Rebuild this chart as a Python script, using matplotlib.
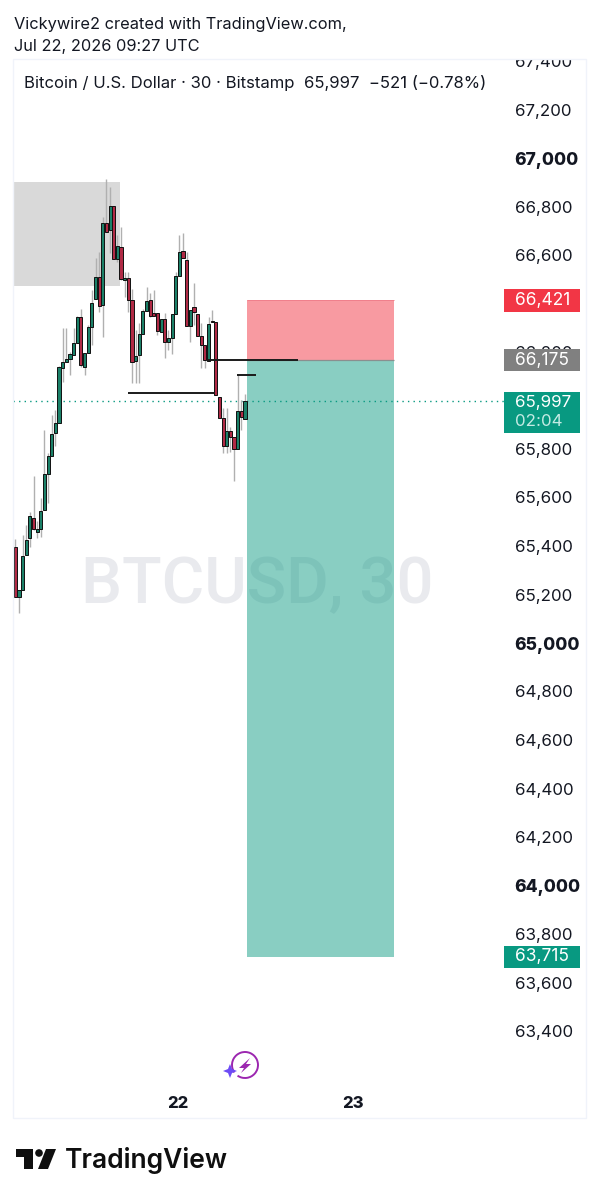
import numpy as np
import matplotlib
matplotlib.use('Agg')
import matplotlib.pyplot as plt
from matplotlib.patches import Rectangle, Polygon, Arc, Circle

# 30 minute candles
opens = [65397, 65191, 65218, 65363, 65435, 65517, 65459, 65469, 65549, 65697, 65772, 65866, 65908, 66134, 66160, 66171,
         66188, 66238, 66346, 66139, 66196, 66304, 66417, 66509, 66394, 66732, 66703, 66802, 66582, 66634, 66497, 66504,
         66414, 66164, 66188, 66273, 66369, 66414, 66361, 66362, 66284, 66335, 66240, 66259, 66355, 66515, 66618, 66579,
         66307, 66386, 66357, 66267, 66229, 66163, 66328, 66322, 66014, 65927, 65812, 65875, 65848, 65800, 65957, 65922]
highs = [65428, 65218, 65445, 65486, 65542, 65689, 65503, 65598, 65878, 65785, 65940, 65961, 66142, 66299, 66299, 66200,
         66299, 66348, 66377, 66196, 66311, 66456, 66588, 66614, 66758, 66913, 66882, 66802, 66682, 66717, 66531, 66531,
         66460, 66291, 66320, 66378, 66469, 66445, 66456, 66362, 66335, 66361, 66291, 66357, 66531, 66682, 66692, 66612,
         66373, 66484, 66357, 66320, 66229, 66346, 66373, 66322, 66014, 65969, 65969, 65891, 65848, 66105, 66002, 66027]
lows = [65189, 65125, 65218, 65363, 65397, 65466, 65433, 65437, 65549, 65578, 65772, 65812, 65907, 66078, 66160, 66105,
        66188, 66238, 66139, 66105, 66196, 66229, 66417, 66366, 66263, 66696, 66608, 66583, 66571, 66497, 66428, 66366,
        66072, 66072, 66072, 66273, 66369, 66345, 66350, 66270, 66284, 66175, 66208, 66192, 66355, 66515, 66589, 66307,
        66242, 66311, 66267, 66134, 66134, 66163, 66322, 66023, 65927, 65783, 65783, 65789, 65668, 65800, 65878, 65922]
closes = [65191, 65218, 65359, 65424, 65525, 65470, 65469, 65546, 65697, 65772, 65862, 65906, 66139, 66160, 66171, 66190,
          66237, 66346, 66146, 66196, 66303, 66403, 66509, 66390, 66732, 66696, 66802, 66583, 66637, 66500, 66504, 66414,
          66160, 66185, 66273, 66369, 66410, 66350, 66350, 66287, 66335, 66240, 66256, 66357, 66513, 66611, 66589, 66307,
          66373, 66365, 66267, 66229, 66167, 66314, 66322, 66023, 65927, 65812, 65875, 65851, 65799, 65957, 65933, 65997]

price_ticks = [67400, 67200, 67000, 66800, 66600, 66400, 66200, 66000, 65800, 65600, 65400, 65200, 65000,
               64800, 64600, 64400, 64200, 64000, 63800, 63600, 63400]
bold_ticks = [67000, 65000, 64000]
day_ticks = [44.6, 92.6]
day_labels = ['22', '23']

# drawings on the chart
zone_top, zone_bottom, zone_end = 66901, 66472, 28.7
pos_start, pos_end = 63.5, 103.8
pos_stop, pos_entry, pos_target = 66415, 66167, 63706
level_lines = [(30.8, 54.8, 66030), (52.6, 77.5, 66167), (60.7, 65.9, 66105)]
last_price = 65997

plt.rcParams['font.family'] = ['Inter', 'DejaVu Sans']

W, H = 599, 1200
fig = plt.figure(figsize=(W / 100, H / 100), dpi=100, facecolor='white')

# plot area, pixel box x 13-505, y 59-1083
ax = fig.add_axes([13 / W, 1 - 1083 / H, 492 / W, 1024 / H])
ax.set_xlim((13 - 15.3) / 3.646, (505 - 15.3) / 3.646)
ax.set_ylim(67000 - (1083 - 158) / 0.2425, 67000 + (158 - 59) / 0.2425)
for s in ax.spines.values():
    s.set_visible(False)

ax.set_yticks(price_ticks)
ax.set_yticklabels([f'{p:,}' for p in price_ticks], fontsize=12.2, color='#131722')
ax.yaxis.tick_right()
ax.tick_params(axis='y', length=0, pad=7)
for lab, p in zip(ax.get_yticklabels(), price_ticks):
    if p in bold_ticks:
        lab.set_fontweight('heavy')
        lab.set_fontsize(12.5)
ax.set_xticks(day_ticks)
ax.set_xticklabels(day_labels, fontsize=12, fontweight='heavy', color='#131722')
ax.tick_params(axis='x', length=0, pad=9)

ax.text(244.5 / 492, 1 - 544 / 1024, 'BTCUSD, 30', transform=ax.transAxes, fontsize=47, color='#e9eaee',
        family='Roboto', fontweight='medium', ha='center', va='baseline', zorder=0)

ax.add_patch(Rectangle((-5, zone_bottom), zone_end + 5, zone_top - zone_bottom, color='#d9d9d9', lw=0, zorder=1))
ax.add_patch(Rectangle((pos_start, pos_entry), pos_end - pos_start, pos_stop - pos_entry,
                       facecolor='#f23645', alpha=0.5, edgecolor='none', zorder=1))
ax.add_patch(Rectangle((pos_start, pos_target), pos_end - pos_start, pos_entry - pos_target,
                       facecolor='#089981', alpha=0.48, edgecolor='none', zorder=1))
ax.plot([pos_start, pos_end], [pos_stop, pos_stop], color='#f0808c', lw=0.7, zorder=1, solid_capstyle='butt')
ax.plot([pos_start, pos_end], [pos_entry, pos_entry], color='#8a8f8f', lw=0.9, zorder=1, solid_capstyle='butt')
ax.axhline(last_price, color='#089981', lw=1.0, ls=(0, (1, 3)), zorder=2)

x = np.arange(len(opens))
opens, closes = np.array(opens), np.array(closes)
up = closes >= opens
ax.vlines(x, lows, highs, color='#b0b0b0', lw=1.0, zorder=3)
ax.bar(x, np.maximum(np.abs(closes - opens), 4), bottom=np.minimum(opens, closes), width=0.86,
       color=np.where(up, '#1b8068', '#b02a45'), edgecolor='#101010', lw=0.7, zorder=4)

for x0, x1, p in level_lines:
    ax.plot([x0, x1], [p, p], color='#1a1a1a', lw=1.4, zorder=5, solid_capstyle='butt')

# overlay in picture pixels: header, price boxes, logo
ov = fig.add_axes([0, 0, 1, 1], zorder=5)
ov.set_xlim(0, W)
ov.set_ylim(H, 0)
ov.axis('off')
ov.patch.set_alpha(0)

ov.add_patch(Rectangle((0, 0), W, 59, color='white', lw=0))
ov.add_patch(Rectangle((13, 59), 573, 1059, fill=False, edgecolor='#f0f3fa', lw=1))
ov.text(14, 25, 'Vickywire2 created with TradingView.com,', fontsize=11.8, color='#131722', va='center')
ov.text(14, 47, 'Jul 22, 2026 09:27 UTC', fontsize=11.8, color='#131722', va='center')
ov.text(24, 83, 'Bitcoin / U.S. Dollar · 30 · Bitstamp  65,997  −521 (−0.78%)', fontsize=12,
        color='#131722', va='center')

boxes = [(289, 311.5, '#f23645', '66,421'), (349, 371, '#808080', '66,175'), (946, 968, '#089981', '63,715')]
for y0, y1, col, txt in boxes:
    ov.add_patch(Rectangle((504, y0), 76, y1 - y0, color=col, lw=0))
    ov.text(515, (y0 + y1) / 2, txt, color='white', fontsize=12.5, va='center')
ov.add_patch(Rectangle((504, 392), 76, 41, color='#089981', lw=0))
ov.text(515, 402, '65,997', color='white', fontsize=12.2, va='center')
ov.text(515, 422, '02:04', color='#c4ebe4', fontsize=12.2, va='center')

# little purple badge above the time axis
ov.add_patch(Arc((245, 1065), 26, 26, theta1=-215, theta2=125, color='#9c27b0', lw=1.4))
ov.add_patch(Polygon([(250, 1058), (239, 1068), (244, 1068), (241, 1073), (251, 1064), (246, 1064)],
                     color='#9c27b0', lw=0))
ov.add_patch(Polygon([(230, 1064), (232, 1069), (237, 1071), (232, 1073), (230, 1078), (228, 1073), (223, 1071), (228, 1069)],
                     color='#6d4bf5', lw=0))

# logo
ov.add_patch(Polygon([(16, 1149), (33, 1149), (33, 1169), (24, 1169), (24, 1157), (16, 1157)], color='#0f0f0f', lw=0))
ov.add_patch(Circle((39, 1153), 3.8, color='#0f0f0f', lw=0))
ov.add_patch(Polygon([(46, 1149), (56, 1149), (48, 1169), (38, 1169)], color='#0f0f0f', lw=0))
ov.text(65, 1161, 'TradingView', fontsize=19, fontweight='semibold', color='#0f0f0f', va='center')

fig.savefig('out.png', dpi=100)
